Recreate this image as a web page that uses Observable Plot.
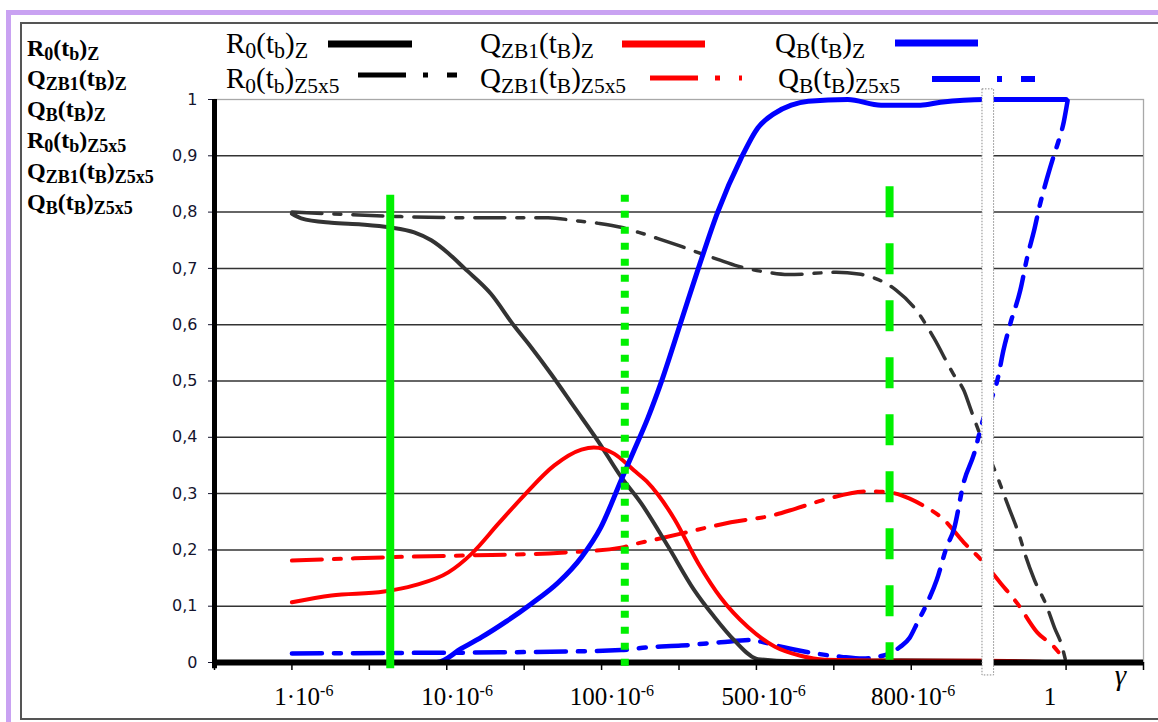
<!DOCTYPE html>
<html>
<head>
<meta charset="utf-8">
<script src="https://cdn.jsdelivr.net/npm/d3@7"></script>
<script src="https://cdn.jsdelivr.net/npm/@observablehq/plot@0.6"></script>
<style>
html, body { margin: 0; padding: 0; background: #fff; }
#wrap { position: relative; width: 1158px; height: 722px; overflow: hidden; background: #fff; }
#purple { position: absolute; left: 6px; top: 10px; width: 1300px; height: 900px; border-top: 5px solid #c9a2f2; border-left: 5px solid #c9a2f2; box-sizing: border-box; }
#inner { position: absolute; left: 20px; top: 22px; width: 1300px; height: 698px; border: 2px solid #555; box-sizing: border-box; }
#chart { position: absolute; left: 0; top: 0; }
#overlay { position: absolute; left: 0; top: 0; pointer-events: none; }
</style>
</head>
<body>
<div id="wrap">
  <div id="purple"></div>
  <div id="inner"></div>
  <div id="chart"></div>
  <div id="overlay"></div>
</div>
<script>
// ---------- DATA (x = position along the category axis, y = value) ----------
const xTicks = [0,1,2,3,4,5,6,7,8,9,10,11,12];
const xTickLabels = ["1·10", "10·10", "100·10", "500·10", "800·10", "1"];
const xTickExponents = ["-6", "-6", "-6", "-6", "-6", ""];
const xLabelPos = [1.16, 3.14, 5.14, 7.10, 9.03, 10.80];
const xAxisName = "γ";
const xAxisNamePos = 11.71;
const yTicks = [0,0.1,0.2,0.3,0.4,0.5,0.6,0.7,0.8,0.9,1];
const yTickLabels = ["0","0,1","0,2","0,3","0,4","0,5","0,6","0,7","0,8","0,9","1"];

const R0_Z = [[1.00,.797],[1.12,.789],[1.51,.781],[1.90,.778],[2.26,.773],[2.58,.764],[2.80,.750],[3.02,.727],[3.23,.700],[3.57,.655],[3.87,.598],[4.09,.560],[4.35,.512],[4.65,.453],[4.96,.392],[5.25,.330],[5.51,.283],[5.86,.206],[6.19,.130],[6.45,.082],[6.71,.040],[7.02,.006],[7.45,.002],[8.87,.004],[9.83,.003],[11.0,0]];
const Q_ZB1_Z = [[1.00,.107],[1.51,.119],[2.19,.126],[2.58,.137],[3.02,.160],[3.32,.193],[3.67,.247],[4.00,.297],[4.39,.350],[4.74,.378],[4.90,.382],[5.16,.371],[5.42,.341],[5.58,.322],[5.73,.298],[5.94,.255],[6.25,.176],[6.54,.115],[6.89,.063],[7.24,.028],[7.57,.012],[7.88,.005],[8.87,.003],[9.94,.003],[11.0,0]];
const Q_B_Z = [[1.00,0],[2.87,0],[3.19,.025],[3.45,.045],[3.77,.073],[4.09,.104],[4.44,.142],[4.74,.187],[4.99,.24],[5.25,.323],[5.42,.377],[5.60,.435],[5.75,.49],[6.03,.607],[6.25,.70],[6.50,.80],[6.80,.895],[7.02,.95],[7.23,.975],[7.45,.99],[7.67,.997],[8.18,1.0],[8.61,.99],[9.12,.99],[9.38,.995],[9.94,1.0],[11.0,1.0]];
const R0_Z5x5 = [[1.00,.80],[1.51,.797],[2.41,.792],[3.32,.79],[4.31,.79],[4.65,.785],[4.96,.78],[5.25,.773],[5.48,.764],[5.73,.753],[6.03,.739],[6.25,.728],[6.50,.716],[6.76,.704],[7.10,.694],[7.41,.689],[8.03,.693],[8.32,.69],[8.54,.682],[8.80,.662],[9.07,.625],[9.29,.577],[9.55,.511],[9.68,.483],[9.77,.449],[9.85,.419],[10.12,.327],[10.25,.279],[10.40,.224],[10.48,.188],[10.59,.147],[10.75,.10],[10.85,.062],[10.94,.032],[11.0,0]];
const Q_ZB1_Z5x5 = [[1.00,.181],[1.81,.185],[2.25,.187],[3.23,.19],[4.48,.195],[5.25,.204],[5.48,.212],[5.81,.222],[6.03,.229],[6.37,.24],[6.67,.249],[7.23,.262],[7.50,.273],[7.85,.288],[8.45,.304],[8.72,.302],[8.98,.291],[9.15,.279],[9.42,.254],[9.68,.213],[9.90,.183],[10.16,.14],[10.37,.105],[10.63,.053],[10.85,.027],[11.0,0]];
const Q_B_Z5x5 = [[1.00,.016],[2.41,.017],[3.70,.018],[5.25,.022],[5.60,.027],[6.03,.03],[6.54,.036],[6.97,.04],[7.06,.037],[7.32,.028],[7.68,.018],[8.10,.01],[8.37,.007],[8.63,.012],[8.85,.027],[8.98,.044],[9.08,.071],[9.20,.104],[9.33,.147],[9.46,.206],[9.55,.236],[9.68,.321],[9.81,.37],[9.92,.428],[10.12,.506],[10.19,.554],[10.28,.602],[10.41,.662],[10.50,.721],[10.59,.769],[10.66,.812],[10.76,.863],[10.85,.904],[10.90,.925],[10.97,.96],[11.02,.998]];

const markerX = [2.27, 5.30, 8.72];
const markerTop = [0.83, 0.83, 0.845];
const markerBottom = [-0.011, -0.011, 0.004];
const breakBox = [{x1: 9.92, x2: 10.07, y1: -0.023, y2: 1.018}];

// ---------- CHART ----------
const serif = "'Liberation Serif', 'Times New Roman', Times, serif";
const dashDot = "30,12,7,12";
const green = "#00f000";

const chart = Plot.plot({
  width: 1158, height: 722,
  marginLeft: 214, marginRight: 15, marginTop: 99, marginBottom: 60,
  x: {type: "linear", domain: [0, 12], axis: null},
  y: {domain: [0, 1], axis: null},
  style: {background: "transparent", fontFamily: "'DejaVu Sans', sans-serif", overflow: "visible"},
  marks: [
    Plot.frame({stroke: "#a8a8a8", strokeWidth: 1.3}),
    Plot.gridY(yTicks.slice(1, 10), {stroke: "#333", strokeOpacity: 1, strokeWidth: 1.5}),
    Plot.axisY({ticks: yTicks, tickSize: 6, tickPadding: 11, fontSize: 16, color: "#14142e",
      tickFormat: d => yTickLabels[Math.round(d * 10)]}),
    Plot.axisX({ticks: xTicks, tickSize: 8, tickFormat: () => "", stroke: "#000", strokeWidth: 1.5}),
    // dash-dot series (Z5x5)
    Plot.line(Q_ZB1_Z5x5, {x: d => d[0], y: d => d[1], stroke: "#ff0000", strokeWidth: 4, strokeDasharray: dashDot, curve: "monotone-x"}),
    Plot.line(R0_Z5x5, {x: d => d[0], y: d => d[1], stroke: "#333", strokeWidth: 3.5, strokeDasharray: dashDot, curve: "monotone-x"}),
    Plot.line(Q_B_Z5x5, {x: d => d[0], y: d => d[1], stroke: "#0000ff", strokeWidth: 4.5, strokeDasharray: dashDot, curve: "monotone-x"}),
    // solid series (Z)
    Plot.line(R0_Z, {x: d => d[0], y: d => d[1], stroke: "#333", strokeWidth: 4, curve: "monotone-x"}),
    Plot.line(Q_ZB1_Z, {x: d => d[0], y: d => d[1], stroke: "#ff0000", strokeWidth: 4, curve: "monotone-x"}),
    Plot.line(Q_B_Z, {x: d => d[0], y: d => d[1], stroke: "#0000ff", strokeWidth: 5, curve: "monotone-x"}),
    // thick axes
    Plot.ruleY([0], {x1: 0, x2: 12, stroke: "#000", strokeWidth: 6}),
    Plot.ruleX([0], {y1: 1, y2: -0.011, stroke: "#000", strokeWidth: 5}),
    // green markers
    Plot.ruleX([0], {x: () => markerX[0], y1: () => markerTop[0], y2: () => markerBottom[0], stroke: green, strokeWidth: 8}),
    Plot.ruleX([0], {x: () => markerX[1], y1: () => markerTop[1], y2: () => markerBottom[1], stroke: green, strokeWidth: 8, strokeDasharray: "7,9"}),
    Plot.ruleX([0], {x: () => markerX[2], y1: () => markerTop[2], y2: () => markerBottom[2], stroke: green, strokeWidth: 8, strokeDasharray: "31,26"}),
    // axis break
    Plot.rect(breakBox, {x1: "x1", x2: "x2", y1: "y1", y2: "y2", fill: "#fff", stroke: "#8a8a8a", strokeWidth: 1, strokeDasharray: "1.5,1.5"})
  ]
});
document.getElementById("chart").appendChild(chart);
const xScale = chart.scale("x");
const yScale = chart.scale("y");

// ---------- TEXT OVERLAY (legend, series list, x labels) ----------
const svg = d3.select("#overlay").append("svg").attr("width", 1158).attr("height", 722);

// x tick labels with superscript exponents, positioned through Plot's x scale
xTickLabels.forEach((lab, i) => {
  const t = svg.append("text")
    .attr("x", xScale.apply(xLabelPos[i])).attr("y", yScale.apply(0) + 43)
    .attr("text-anchor", "middle")
    .style("font-family", serif).style("font-size", "25px").attr("fill", "#000");
  t.append("tspan").text(lab);
  if (xTickExponents[i]) t.append("tspan").attr("dy", -9).style("font-size", "16px").text(xTickExponents[i]);
});
svg.append("text").attr("x", xScale.apply(xAxisNamePos)).attr("y", yScale.apply(0) + 23)
  .attr("text-anchor", "middle")
  .style("font-family", serif).style("font-size", "29px").style("font-style", "italic")
  .attr("fill", "#000").text(xAxisName);

function richText(x, y, parts, size, weight, subScale, subDy) {
  const t = svg.append("text").attr("x", x).attr("y", y)
    .style("font-family", serif).style("font-size", size + "px").style("font-weight", weight).attr("fill", "#000");
  let shifted = 0;
  parts.forEach(([s, sub]) => {
    const target = sub ? subDy : 0;
    t.append("tspan").attr("dy", target - shifted).style("font-size", (sub ? size * subScale : size) + "px").text(s);
    shifted = target;
  });
}
const nm = {
  R0Z:   [["R",0],["0",1],["(t",0],["b",1],[")",0],["Z",1]],
  QZB1Z: [["Q",0],["ZB1",1],["(t",0],["B",1],[")",0],["Z",1]],
  QBZ:   [["Q",0],["B",1],["(t",0],["B",1],[")",0],["Z",1]],
  R0Z5:  [["R",0],["0",1],["(t",0],["b",1],[")",0],["Z5x5",1]],
  QZB1Z5:[["Q",0],["ZB1",1],["(t",0],["B",1],[")",0],["Z5x5",1]],
  QBZ5:  [["Q",0],["B",1],["(t",0],["B",1],[")",0],["Z5x5",1]]
};
// left bold list
[["R0Z",56],["QZB1Z",86],["QBZ",117],["R0Z5",148],["QZB1Z5",179],["QBZ5",210]].forEach(([k, y]) =>
  richText(27, y, nm[k], 24, "bold", 0.75, 4));

// top legend
richText(226, 53, nm.R0Z, 29, "normal", 0.76, 5);
richText(480, 53, nm.QZB1Z, 29, "normal", 0.74, 5);
richText(775, 53, nm.QBZ, 29, "normal", 0.74, 5);
richText(226, 88, nm.R0Z5, 29, "normal", 0.74, 5);
richText(480, 88, nm.QZB1Z5, 29, "normal", 0.74, 5);
richText(778, 88, nm.QBZ5, 29, "normal", 0.74, 5);

const keyDash = "48,17,5,19";
[[328,412,44,"#000",7,null],[622,705,44,"#ff0000",7,null],[895,978,43,"#0000ff",7,null],
 [358,457,75,"#000",5,keyDash],[650,742,78,"#ff0000",5,keyDash],[932,1035,79,"#0000ff",6,keyDash]]
 .forEach(([x1,x2,y,c,w,da]) => {
  const l = svg.append("line").attr("x1", x1).attr("x2", x2).attr("y1", y).attr("y2", y)
    .attr("stroke", c).attr("stroke-width", w);
  if (da) l.attr("stroke-dasharray", da);
});
</script>
</body>
</html>
